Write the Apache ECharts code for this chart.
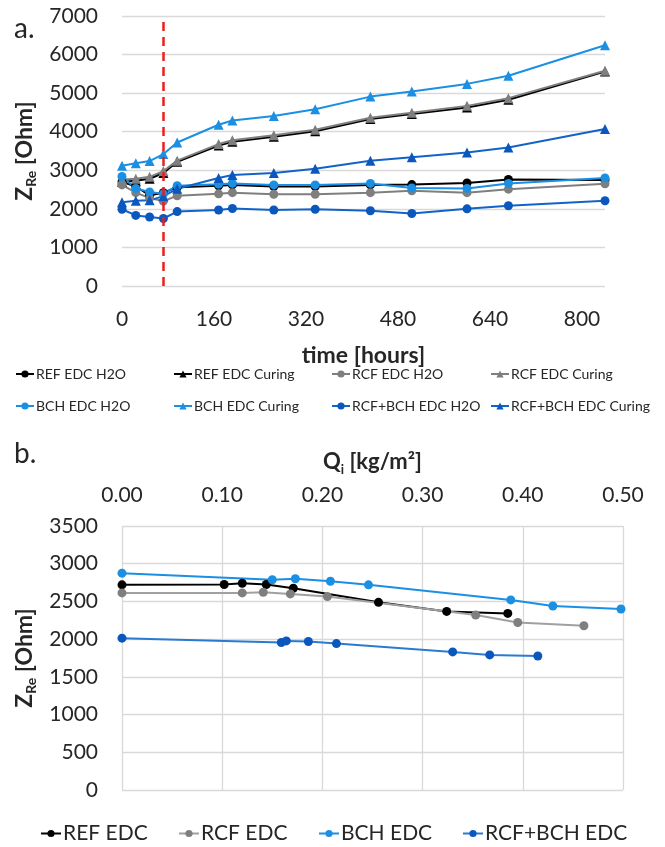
<!DOCTYPE html>
<html>
<head>
<meta charset="utf-8">
<script src="https://cdn.jsdelivr.net/npm/echarts@6/dist/echarts.min.js"></script>
<style>
  html, body { margin: 0; padding: 0; background: #ffffff; }
  #chart { width: 665px; height: 847px; }
</style>
</head>
<body>
<div id="chart"></div>
<script>
// ---- Panel a: impedance over time ----
const hours = [0, 24, 48, 72, 96, 168, 192, 264, 336, 432, 504, 600, 672, 840];
const timeTicks = [0, 160, 320, 480, 640, 800];
const refH2O      = [2700, 2580, 2350, 2420, 2560, 2600, 2620, 2580, 2580, 2620, 2630, 2670, 2760, 2750];
const refCuring   = [2700, 2730, 2780, 2930, 3220, 3640, 3740, 3870, 4010, 4330, 4460, 4630, 4830, 5560];
const rcfH2O      = [2620, 2420, 2280, 2200, 2340, 2390, 2420, 2380, 2380, 2420, 2470, 2420, 2510, 2650];
const rcfCuring   = [2760, 2780, 2830, 2980, 3250, 3680, 3780, 3910, 4050, 4360, 4490, 4670, 4870, 5580];
const bchH2O      = [2840, 2530, 2440, 2390, 2600, 2640, 2660, 2620, 2620, 2660, 2540, 2530, 2660, 2800];
const bchCuring   = [3120, 3180, 3240, 3420, 3720, 4180, 4290, 4410, 4580, 4910, 5040, 5240, 5450, 6240];
const mixH2O      = [1990, 1830, 1790, 1750, 1930, 1970, 2010, 1970, 1990, 1950, 1880, 2000, 2080, 2210];
const mixCuring   = [2170, 2210, 2220, 2330, 2520, 2800, 2880, 2930, 3040, 3250, 3340, 3460, 3590, 4070];
const curingStart = 72;

// ---- Panel b: impedance against Qi ----
const qiTicks = [0.00, 0.10, 0.20, 0.30, 0.40, 0.50];
const qRef = [0, 0.102, 0.120, 0.144, 0.171, 0.256, 0.324, 0.385];
const zRef = [2720, 2724, 2741, 2724, 2675, 2488, 2368, 2341];
const qRcf = [0, 0.120, 0.141, 0.168, 0.205, 0.353, 0.395, 0.461];
const zRcf = [2613, 2613, 2622, 2600, 2564, 2320, 2221, 2177];
const qBch = [0, 0.150, 0.173, 0.208, 0.246, 0.388, 0.430, 0.498];
const zBch = [2875, 2787, 2800, 2768, 2720, 2520, 2440, 2400];
const qMix = [0, 0.159, 0.164, 0.186, 0.214, 0.330, 0.367, 0.415];
const zMix = [2013, 1955, 1977, 1968, 1941, 1831, 1791, 1777];

const FONT = 'Lato, "Open Sans", sans-serif';
const TEXT = '#262626';
const GRID = '#d9d9d9';
const C_BLACK = '#000000', C_GRAY = '#7f7f7f', C_LIGHT = '#1a8fe3', C_DARK = '#0a58bd';

const pairs = (xs, ys) => xs.map((x, i) => [x, ys[i]]);

function timeSeries(name, vals, color, symbol, lineColor) {
  return {
    name, type: 'line', xAxisIndex: 0, yAxisIndex: 0,
    data: pairs(hours, vals),
    symbol, symbolSize: symbol === 'triangle' ? 10 : 9,
    itemStyle: { color },
    lineStyle: { color: lineColor || color, width: 2 },
    animation: false
  };
}
function qiSeries(name, qs, zs, color, lineColor) {
  return {
    name, type: 'line', xAxisIndex: 1, yAxisIndex: 1,
    data: pairs(qs, zs),
    symbol: 'circle', symbolSize: 9,
    itemStyle: { color },
    lineStyle: { color: lineColor || color, width: 2 },
    animation: false
  };
}

const series = [
  timeSeries('REF EDC H2O', refH2O, C_BLACK, 'circle'),
  timeSeries('REF EDC Curing', refCuring, C_BLACK, 'triangle'),
  timeSeries('RCF EDC H2O', rcfH2O, C_GRAY, 'circle'),
  timeSeries('RCF EDC Curing', rcfCuring, C_GRAY, 'triangle'),
  timeSeries('BCH EDC H2O', bchH2O, C_LIGHT, 'circle'),
  timeSeries('BCH EDC Curing', bchCuring, C_LIGHT, 'triangle'),
  timeSeries('RCF+BCH EDC H2O', mixH2O, C_DARK, 'circle', '#1263c8'),
  timeSeries('RCF+BCH EDC Curing', mixCuring, C_DARK, 'triangle', '#1263c8'),
  qiSeries('REF EDC', qRef, zRef, C_BLACK),
  qiSeries('RCF EDC', qRcf, zRcf, C_GRAY, '#a0a0a0'),
  qiSeries('BCH EDC', qBch, zBch, C_LIGHT),
  qiSeries('RCF+BCH EDC', qMix, zMix, C_DARK, '#2a7ad2')
];

// vertical marker where curing starts
series[7].markLine = {
  silent: true, symbol: ['none', 'none'], z: 10,
  label: { show: false },
  lineStyle: { color: '#f01c1c', type: [9, 6], width: 2.5 },
  data: [{ xAxis: curingStart }]
};

function legendAt(name, left, top, fontSize, itemWidth) {
  return {
    data: [name], left, top, padding: 0, selectedMode: false,
    itemWidth, itemHeight: 9, itemGap: 0,
    textStyle: { fontFamily: FONT, fontSize, color: TEXT, padding: [0, 0, 0, -3] }
  };
}

const legends = [
  legendAt('REF EDC H2O', 15, 367, 14, 18),
  legendAt('REF EDC Curing', 173, 367, 14, 18),
  legendAt('RCF EDC H2O', 331, 367, 14, 18),
  legendAt('RCF EDC Curing', 490, 367, 14, 18),
  legendAt('BCH EDC H2O', 15, 399, 14, 18),
  legendAt('BCH EDC Curing', 173, 399, 14, 18),
  legendAt('RCF+BCH EDC H2O', 331, 399, 14, 18),
  legendAt('RCF+BCH EDC Curing', 490, 399, 14, 18),
  legendAt('REF EDC', 40, 823, 21, 20),
  legendAt('RCF EDC', 178, 823, 21, 20),
  legendAt('BCH EDC', 318, 823, 21, 20),
  legendAt('RCF+BCH EDC', 462, 823, 21, 20)
];

const zName = {
  name: '{z|Z}{s|Re}{n| [Ohm]}',
  nameLocation: 'middle',
  nameRotate: 90,
  nameGap: 68,
  nameTextStyle: {
    fontFamily: FONT, fontWeight: 'bold', color: TEXT,
    rich: {
      z: { fontFamily: FONT, fontWeight: 'bold', fontSize: 23, lineHeight: 28, color: TEXT },
      s: { fontFamily: FONT, fontWeight: 'bold', fontSize: 14, lineHeight: 14, verticalAlign: 'bottom', color: TEXT },
      n: { fontFamily: FONT, fontWeight: 'bold', fontSize: 23, lineHeight: 28, color: TEXT }
    }
  }
};

const plainNumber = v => String(v);

const option = {
  backgroundColor: '#ffffff',
  animation: false,
  textStyle: { fontFamily: FONT },
  legend: legends,
  graphic: [
    { type: 'text', left: 14, top: 15, style: { text: 'a.', font: '28px ' + FONT, fill: TEXT } },
    { type: 'text', left: 14, top: 440, style: { text: 'b.', font: '28px ' + FONT, fill: TEXT } }
  ],
  grid: [
    { left: 122, top: 16, width: 483, height: 270 },
    { left: 122, top: 526, width: 501, height: 264 }
  ],
  xAxis: [
    {
      type: 'value', gridIndex: 0, min: 0, max: 840, interval: 160,
      name: 'time [hours]', nameLocation: 'middle', nameGap: 58,
      nameTextStyle: { fontFamily: FONT, fontWeight: 'bold', fontSize: 23, color: TEXT },
      axisLine: { show: false }, axisTick: { show: false }, splitLine: { show: false },
      axisLabel: {
        fontFamily: FONT, fontSize: 21, color: TEXT, margin: 23,
        formatter: v => (timeTicks.includes(v) ? String(v) : '')
      }
    },
    {
      type: 'value', gridIndex: 1, position: 'top', min: 0, max: 0.5, interval: 0.1,
      name: '{q|Q}{s|i}{n| [kg/m²]}', nameLocation: 'middle', nameGap: 50,
      nameTextStyle: {
        rich: {
          q: { fontFamily: FONT, fontWeight: 'bold', fontSize: 22, lineHeight: 28, color: TEXT },
          s: { fontFamily: FONT, fontWeight: 'bold', fontSize: 13, lineHeight: 13, verticalAlign: 'bottom', color: TEXT },
          n: { fontFamily: FONT, fontWeight: 'bold', fontSize: 22, lineHeight: 28, color: TEXT }
        }
      },
      axisLine: { show: false }, axisTick: { show: false },
      splitLine: { show: true, lineStyle: { color: GRID, width: 1.3 } },
      axisLabel: {
        fontFamily: FONT, fontSize: 21, color: TEXT, margin: 20,
        formatter: v => qiTicks.find(t => Math.abs(t - v) < 1e-9).toFixed(2)
      }
    }
  ],
  yAxis: [
    Object.assign({
      type: 'value', gridIndex: 0, min: 0, max: 7000, interval: 1000,
      axisLine: { show: false }, axisTick: { show: false },
      splitLine: { show: true, lineStyle: { color: GRID, width: 1.3 } },
      axisLabel: { fontFamily: FONT, fontSize: 21, color: TEXT, margin: 24, formatter: plainNumber }
    }, zName),
    Object.assign({
      type: 'value', gridIndex: 1, min: 0, max: 3500, interval: 500,
      axisLine: { show: false }, axisTick: { show: false },
      splitLine: { show: true, lineStyle: { color: GRID, width: 1.3 } },
      axisLabel: { fontFamily: FONT, fontSize: 21, color: TEXT, margin: 24, formatter: plainNumber }
    }, zName)
  ],
  series
};

const chart = echarts.init(document.getElementById('chart'), null, { renderer: 'canvas' });
chart.setOption(option);
</script>
</body>
</html>
